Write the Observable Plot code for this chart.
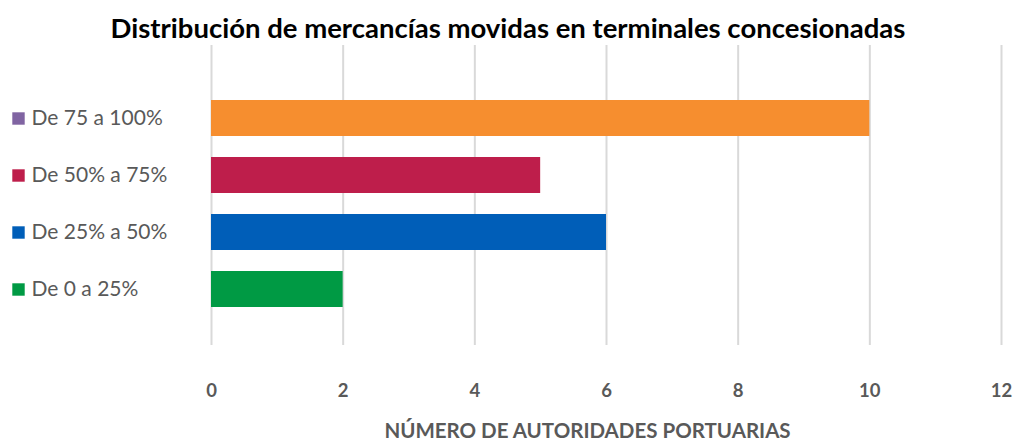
<!DOCTYPE html>
<html><head><meta charset="utf-8">
<script src="https://cdn.jsdelivr.net/npm/d3@7"></script>
<script src="https://cdn.jsdelivr.net/npm/@observablehq/plot@0.6"></script>
<style>
body{margin:0;background:#fff;font-family:Lato,"Open Sans",sans-serif;}
#title{height:45px;line-height:56px;text-align:center;font-weight:bold;font-size:27.5px;color:#000;}
</style></head>
<body>
<div id="title">Distribución de mercancías movidas en terminales concesionadas</div>
<div id="chart"></div>
<script>
const categories = ["De 75 a 100%", "De 50% a 75%", "De 25% a 50%", "De 0 a 25%"];
const values = [10, 5, 6, 2];
const barColors = ["#F68E2F", "#BE1E4B", "#005EB8", "#009A44"];
const swatchColors = ["#8064A2", "#BE1E4B", "#005EB8", "#009A44"];
const xTicks = [0, 2, 4, 6, 8, 10, 12];
const xLabel = "NÚMERO DE AUTORIDADES PORTUARIAS";

const data = categories.map((c, i) => ({cat: c, v: values[i], bar: barColors[i], sw: swatchColors[i]}));

const chart = Plot.plot({
  width: 1016,
  height: 396,
  marginLeft: 211,
  marginRight: 15,
  marginTop: 0,
  marginBottom: 96,
  style: {fontFamily: "Lato, 'Open Sans', sans-serif", color: "#595959", background: "#fff"},
  x: {domain: [0, 12], ticks: xTicks},
  y: {domain: categories, range: [44, 274], paddingInner: 0.36, paddingOuter: 0.18, axis: null},
  marks: [
    Plot.ruleX(xTicks, {stroke: "#d9d9d9", strokeWidth: 2}),
    Plot.barX(data, {x: "v", y: "cat", fill: "bar"}),
    Plot.dot(data, {y: "cat", frameAnchor: "left", dx: -193, symbol: "square", r: 7, fill: "sw", stroke: null}),
    Plot.text(data, {y: "cat", text: "cat", frameAnchor: "left", dx: -180, textAnchor: "start", fontSize: 21, fill: "#595959"}),
    Plot.axisX({ticks: xTicks, tickSize: 0, tickPadding: 38, fontSize: 18.5, fontWeight: "bold", fill: "#595959", label: null}),
    Plot.text([xLabel], {frameAnchor: "bottom", dy: 92, dx: -19, text: d => d, fontSize: 20.5, fontWeight: "bold", fill: "#595959", x: () => 6})
  ]
});
document.getElementById("chart").appendChild(chart);
</script>
</body></html>
